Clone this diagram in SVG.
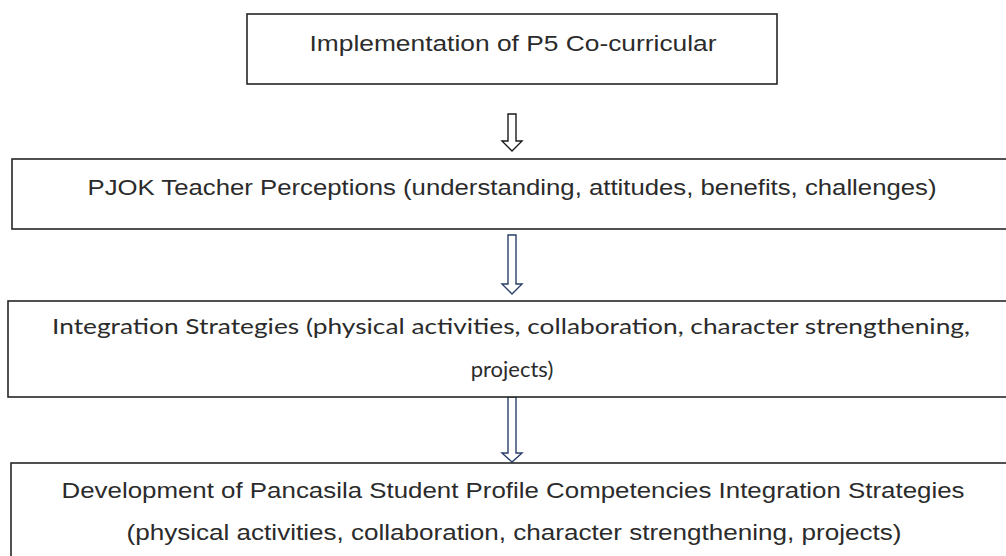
<svg xmlns="http://www.w3.org/2000/svg" width="1006" height="556" viewBox="0 0 1006 556">
  <style>
    .box { fill: #ffffff; stroke: #262626; stroke-width: 1.6; }
    .lbl { font-family: "Liberation Sans", Arial, sans-serif; font-size: 22px; fill: #2b2b2b; text-anchor: middle; }
    .lbl-c { font-family: Lato, "Liberation Sans", sans-serif; font-size: 22px; fill: #2b2b2b; text-anchor: middle; }
    .arr-k { fill: #ffffff; stroke: #1a1a1a; stroke-width: 1.4; stroke-linejoin: miter; }
    .arr-b { fill: #ffffff; stroke: #2a3f6b; stroke-width: 1.4; stroke-linejoin: miter; }
  </style>
  <rect width="1006" height="556" fill="#ffffff"/>

  <g id="connectors">
    <path class="arr-k" d="M508,114 H516 V141 H522 L512,151 L502,141 H508 Z"/>
    <path class="arr-b" d="M508,235 H516 V284 H522 L512,294 L502,284 H508 Z"/>
    <path class="arr-b" d="M508,397 H516 V453 H522 L512,462 L502,453 H508 Z"/>
  </g>

  <g id="implementation">
    <rect class="box" x="247" y="14" width="530" height="70"/>
    <text class="lbl" x="513" y="51" textLength="407" lengthAdjust="spacingAndGlyphs">Implementation of P5 Co-curricular</text>
  </g>

  <g id="perceptions">
    <rect class="box" x="12" y="159" width="1000" height="70"/>
    <text class="lbl" x="512" y="195" textLength="849" lengthAdjust="spacingAndGlyphs">PJOK Teacher Perceptions (understanding, attitudes, benefits, challenges)</text>
  </g>

  <g id="strategies">
    <rect class="box" x="8" y="301" width="1008" height="96"/>
    <text class="lbl-c" x="511" y="334" textLength="918" lengthAdjust="spacingAndGlyphs">Integration Strategies (physical activities, collaboration, character strengthening,</text>
    <text class="lbl-c" x="512" y="377">projects)</text>
  </g>

  <g id="development">
    <rect class="box" x="11" y="463" width="1002" height="110"/>
    <text class="lbl" x="513" y="498" textLength="903" lengthAdjust="spacingAndGlyphs">Development of Pancasila Student Profile Competencies Integration Strategies</text>
    <text class="lbl" x="514" y="540" textLength="775" lengthAdjust="spacingAndGlyphs">(physical activities, collaboration, character strengthening, projects)</text>
  </g>
</svg>
